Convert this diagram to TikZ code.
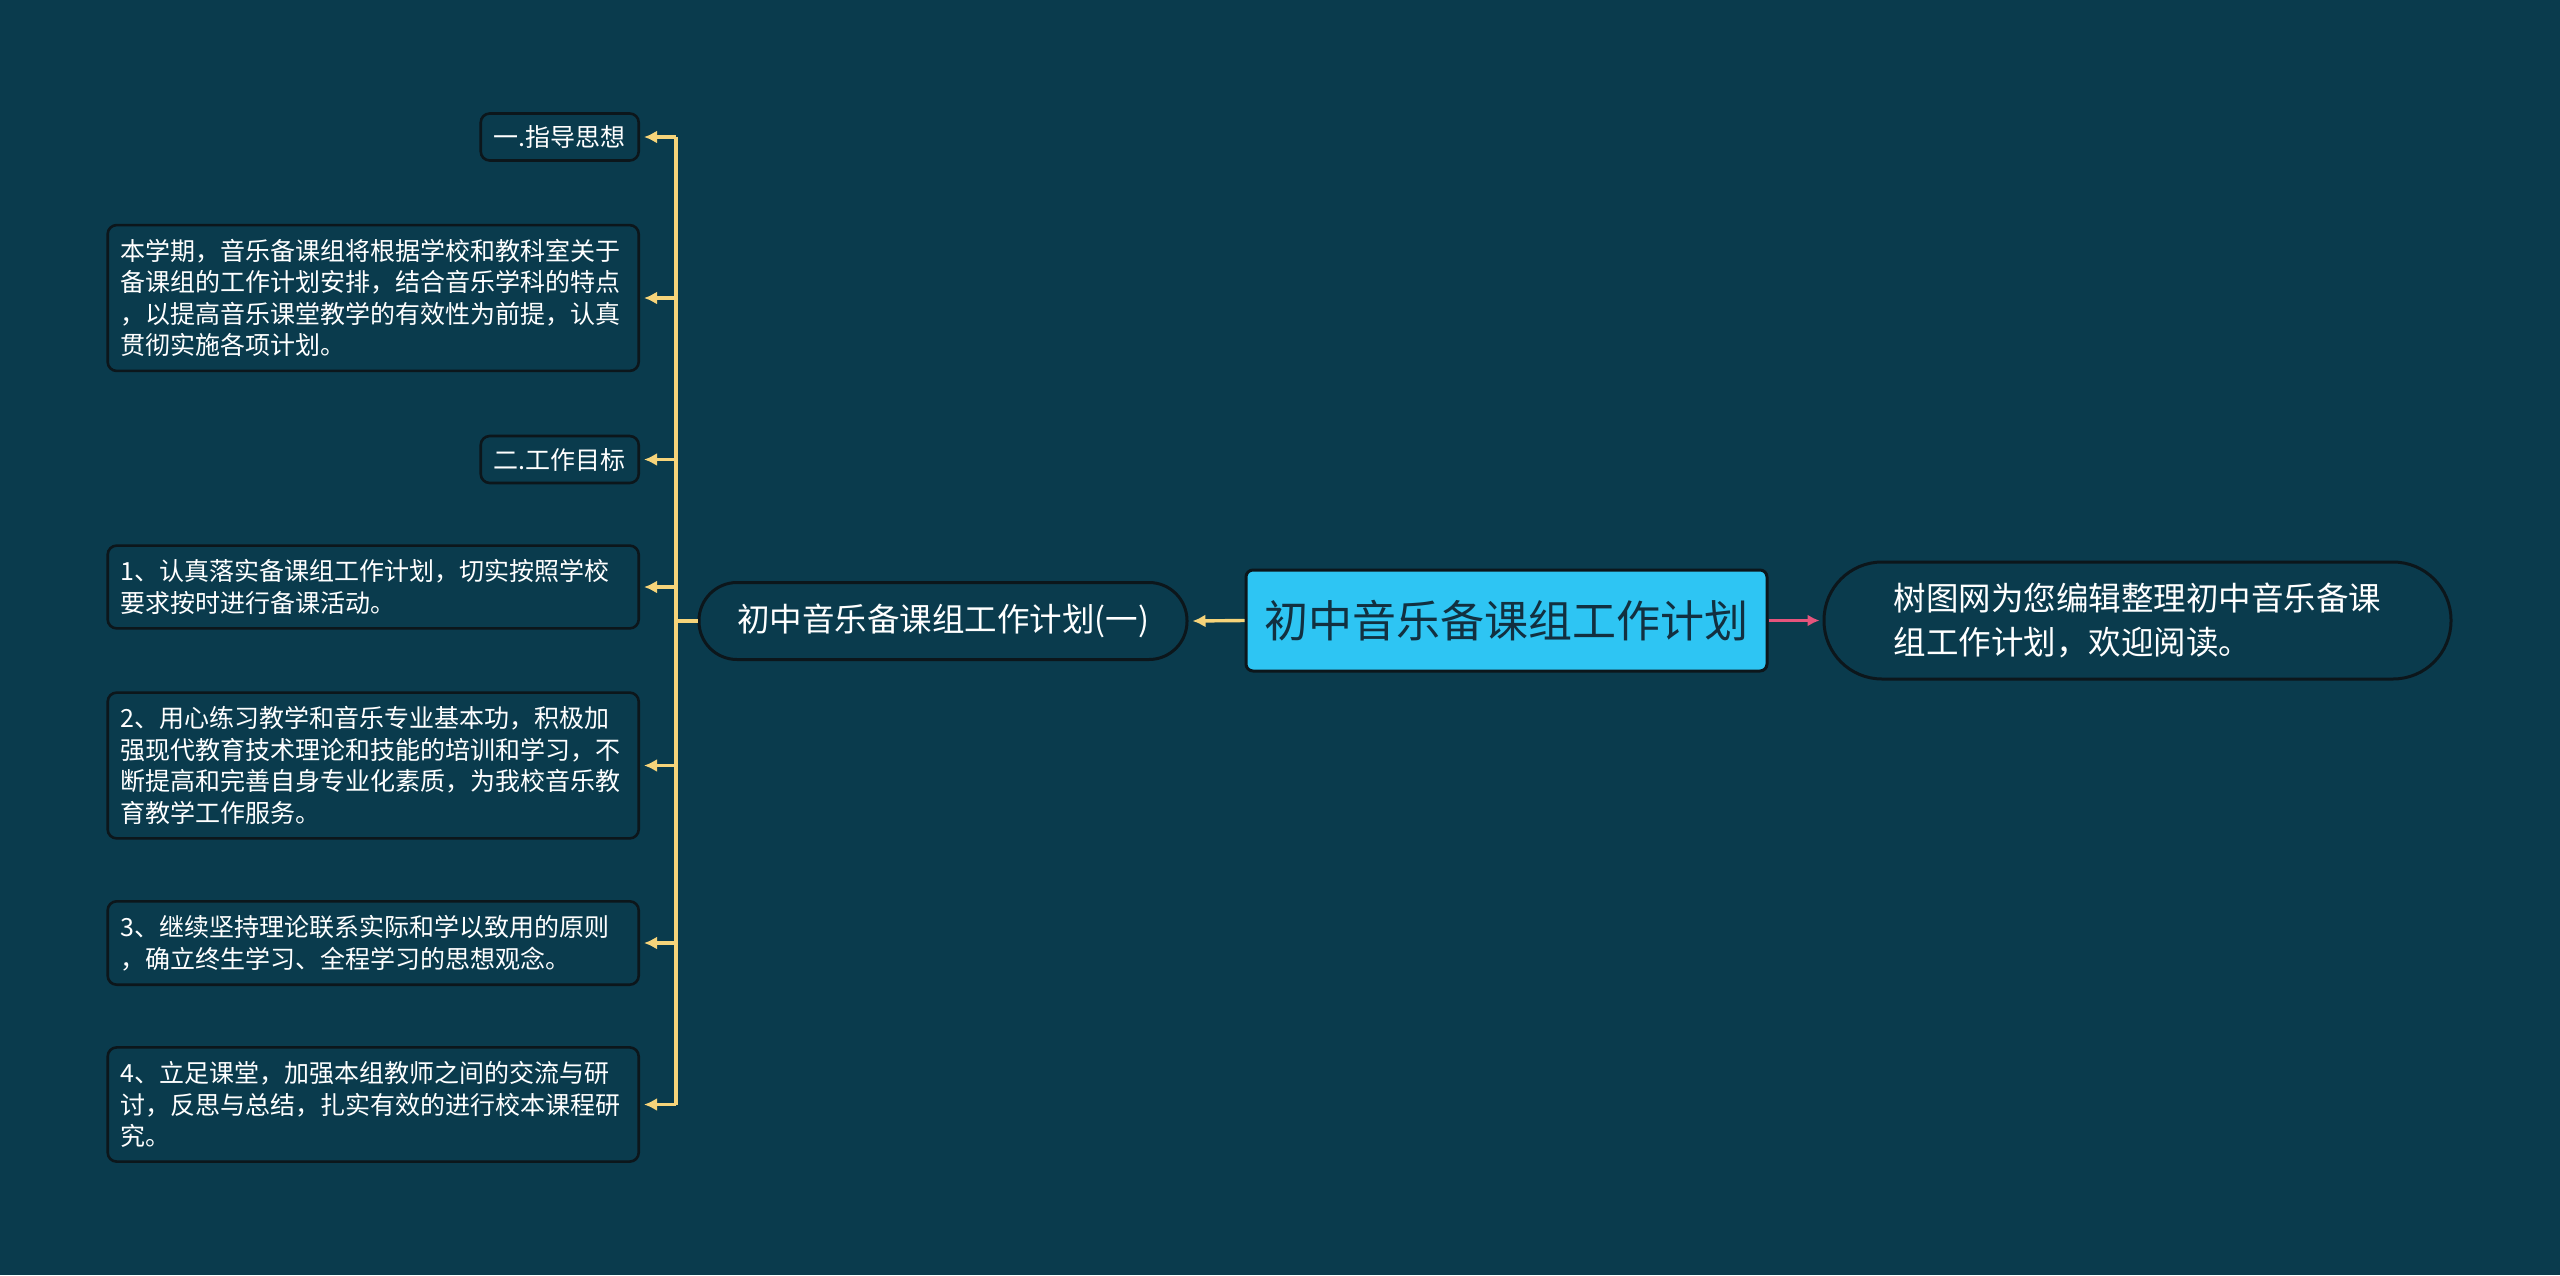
\documentclass[tikz,border=0pt]{standalone}
\usepackage{fontspec}
\setmainfont{Noto Sans CJK SC}
\usetikzlibrary{arrows.meta}
\definecolor{bgc}{HTML}{0A3B4D}
\definecolor{edgec}{HTML}{0C161B}
\definecolor{yelc}{HTML}{F6D47A}
\definecolor{pinkc}{HTML}{E5547C}
\definecolor{rootc}{HTML}{2EC5F3}
\definecolor{roottext}{HTML}{123040}
\tikzset{
  box/.style={draw=edgec, line width=2.6pt, fill=bgc, rounded corners=9pt, text=white,
    font=\fontsize{25}{31.5}\selectfont, inner xsep=13pt, inner ysep=14pt},
  parabox/.style={box, align=left, text width=505pt, anchor=east},
  shortbox/.style={box, anchor=east, inner ysep=12pt},
  midbox/.style={draw=edgec, line width=3pt, fill=bgc, rounded corners=38pt, text=white,
    font=\fontsize{32.5}{40}\selectfont, minimum width=488pt, minimum height=77pt},
  rootbox/.style={draw=edgec, line width=3pt, fill=rootc, rounded corners=7pt, text=roottext,
    font=\fontsize{44}{50}\selectfont, minimum width=521pt, minimum height=101pt},
  rightbox/.style={draw=edgec, line width=3pt, fill=bgc, rounded corners=58pt, text=white,
    font=\fontsize{32.5}{44}\selectfont, align=left, minimum width=627pt, minimum height=117pt},
  yline/.style={draw=yelc, line width=3.4pt},
  yarrow/.style={yline, -{Latex[length=13pt,width=13pt]}},
  parrow/.style={draw=pinkc, line width=3pt, -{Latex[length=12pt,width=12pt]}},
}
\begin{document}
\begin{tikzpicture}[x=1pt,y=-1pt]
\fill[bgc] (0,0) rectangle (2560,1275);
\useasboundingbox (0,0) rectangle (2560,1275);

\node[shortbox] (b1) at (640,137) {一.指导思想};
\node[parabox] (b2) at (640,298) {本学期，音乐备课组将根据学校和教科室关于\\备课组的工作计划安排，结合音乐学科的特点\\，以提高音乐课堂教学的有效性为前提，认真\\贯彻实施各项计划。};
\node[shortbox] (b3) at (640,459.5) {二.工作目标};
\node[parabox] (b4) at (640,587) {1、认真落实备课组工作计划，切实按照学校\\要求按时进行备课活动。};
\node[parabox] (b5) at (640,765.5) {2、用心练习教学和音乐专业基本功，积极加\\强现代教育技术理论和技能的培训和学习，不\\断提高和完善自身专业化素质，为我校音乐教\\育教学工作服务。};
\node[parabox] (b6) at (640,943) {3、继续坚持理论联系实际和学以致用的原则\\，确立终生学习、全程学习的思想观念。};
\node[parabox] (b7) at (640,1104.5) {4、立足课堂，加强本组教师之间的交流与研\\讨，反思与总结，扎实有效的进行校本课程研\\究。};

\node[midbox] (mid) at (943,621) {初中音乐备课组工作计划(一)};
\node[rootbox] (root) at (1506.5,620.5) {初中音乐备课组工作计划};
\node[rightbox] (right) at (2137.5,620.5) {树图网为您编辑整理初中音乐备课\\组工作计划，欢迎阅读。};

\coordinate (t) at (676,621);
\draw[yline] (t |- b1.east) -- (t |- b7.east);
\draw[yline] (mid.west) -- (t);
\foreach \b in {b1,b2,b3,b4,b5,b6,b7}{
  \draw[yarrow] (t |- \b.east) -- ([xshift=4pt]\b.east);
}
\draw[yarrow] (root.west) -- ([xshift=4pt]mid.east);
\draw[parrow] (root.east) -- ([xshift=-3pt]right.west);
\end{tikzpicture}
\end{document}
